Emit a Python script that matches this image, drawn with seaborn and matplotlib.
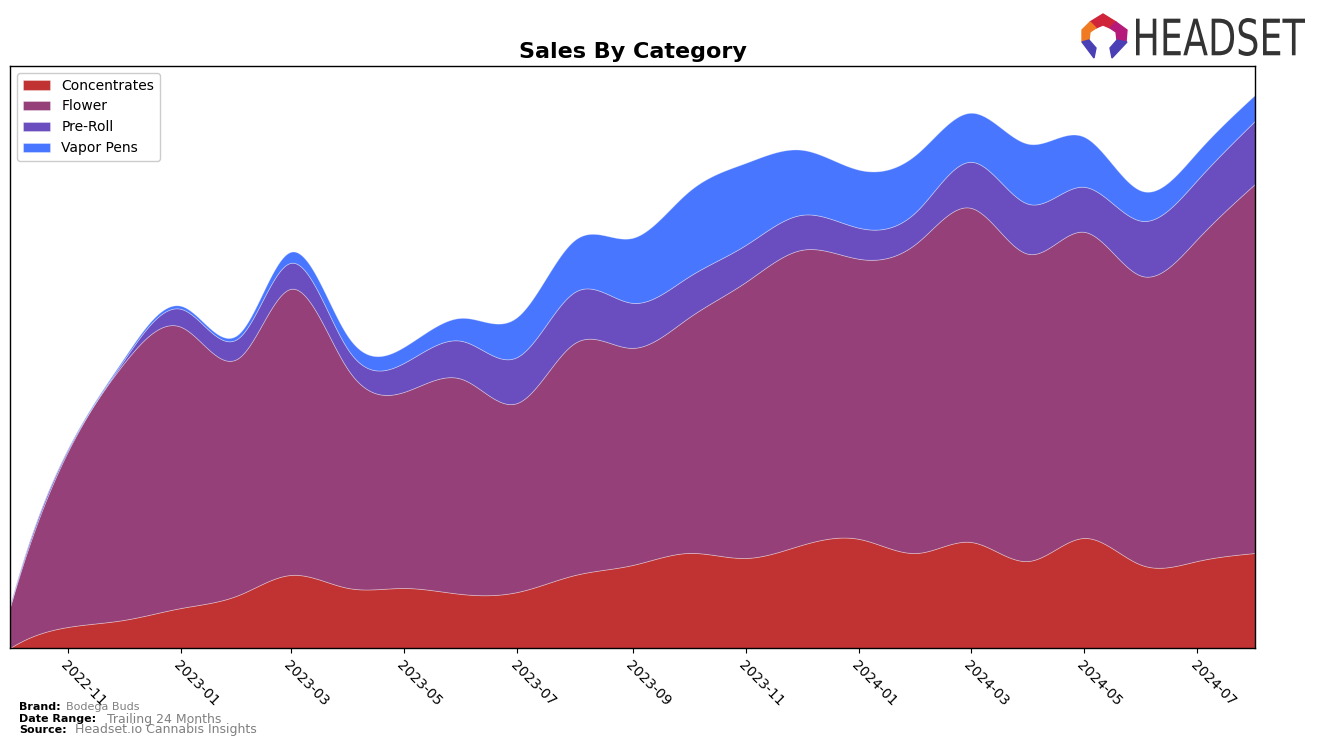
import numpy as np
import pandas as pd
import matplotlib
matplotlib.use('Agg')
import matplotlib.pyplot as plt
import matplotlib.dates as mdates
from matplotlib.patches import Polygon, PathPatch
from matplotlib.textpath import TextPath
from matplotlib.font_manager import FontProperties
from matplotlib.transforms import Affine2D
import seaborn as sns

sns.set_style('ticks')
plt.rcParams['font.family'] = ['DejaVu Sans']
plt.rcParams['text.color'] = 'black'
plt.rcParams['axes.labelcolor'] = 'black'
plt.rcParams['xtick.color'] = 'black'

# monthly sales by category (relative units)
months = pd.date_range('2022-10-01', '2024-08-01', freq='MS')
concentrates = [0, 21, 28, 40, 53, 73, 60, 60, 54, 56, 73, 83, 95, 90, 103, 109, 95, 106, 87, 110, 83, 87, 95]
flower = [41, 175, 256, 281, 237, 286, 218, 196, 215, 189, 232, 217, 235, 276, 295, 280, 310, 334, 307, 306, 289, 322, 369]
pre_roll = [1, 2, 3, 18, 20, 26, 20, 29, 38, 46, 51, 45, 41, 37, 35, 31, 32, 46, 50, 45, 55, 59, 63]
vapor_pens = [1, 1, 2, 3, 4, 11, 13, 16, 23, 40, 52, 65, 85, 82, 65, 58, 57, 49, 60, 50, 30, 28, 26]
categories = ['Concentrates', 'Flower', 'Pre-Roll', 'Vapor Pens']
colors = ['#c13232', '#954078', '#6a4dbe', '#4876ff']

brand = 'Bodega Buds'
date_range = 'Trailing 24 Months'
source = 'Headset.io Cannabis Insights'


def smooth(x, y, xs):
    # cubic spline (not-a-knot start, natural end), only used to draw the curves smoothly
    x = np.asarray(x, float)
    y = np.asarray(y, float)
    n = len(x)
    h = np.diff(x)
    A = np.zeros((n, n))
    r = np.zeros(n)
    A[0, 0], A[0, 1], A[0, 2] = -h[1], h[0] + h[1], -h[0]
    A[-1, -1] = 1
    for i in range(1, n - 1):
        A[i, i - 1] = h[i - 1]
        A[i, i] = 2 * (h[i - 1] + h[i])
        A[i, i + 1] = h[i]
        r[i] = 3 * ((y[i + 1] - y[i]) / h[i] - (y[i] - y[i - 1]) / h[i - 1])
    c = np.linalg.solve(A, r)
    b = (y[1:] - y[:-1]) / h - h * (2 * c[:-1] + c[1:]) / 3
    d = (c[1:] - c[:-1]) / (3 * h)
    idx = np.clip(np.searchsorted(x, xs) - 1, 0, n - 2)
    dx = xs - x[idx]
    return y[idx] + b[idx] * dx + c[idx] * dx ** 2 + d[idx] * dx ** 3


xnum = mdates.date2num(months)
xs = np.linspace(xnum[0], xnum[-1], 800)
series = [concentrates, flower, pre_roll, vapor_pens]
ys = [np.clip(smooth(xnum, s, xs), 0, None) for s in series]

fig = plt.figure(figsize=(13.19, 7.46), dpi=100)
ax = fig.add_axes([10 / 1319, 98 / 746, 1245 / 1319, 582 / 746])

ax.stackplot(mdates.num2date(xs), *ys, labels=categories, colors=sns.color_palette(colors),
             edgecolor=(1, 1, 1, 0.35), linewidth=0.6)

total = np.sum(series, axis=0)
ax.set_ylim(0, total.max() * 1.052)
ax.set_xlim(months[0], months[-1])
ax.set_yticks([])
ax.xaxis.set_major_locator(mdates.MonthLocator(bymonth=[1, 3, 5, 7, 9, 11]))
ax.xaxis.set_major_formatter(mdates.DateFormatter('%Y-%m'))
plt.setp(ax.get_xticklabels(), rotation=-45, ha='left', rotation_mode='anchor', fontsize=10)
for s in ax.spines.values():
    s.set_visible(True)
    s.set_color('black')
    s.set_linewidth(1)

ax.set_title('Sales By Category', fontsize=16, fontweight='bold', pad=6)
ax.legend(loc='upper left', fontsize=10, framealpha=1)

# footer
fig.text(19 / 1319, 1 - 707 / 746, 'Brand:', fontsize=8, fontweight='bold', va='center')
fig.text(66 / 1319, 1 - 707 / 746, brand, fontsize=8, color='gray', va='center')
fig.text(19 / 1319, 1 - 719 / 746, 'Date Range:', fontsize=8, fontweight='bold', va='center')
fig.text(107 / 1319, 1 - 719 / 746, date_range, fontsize=9, color='gray', va='center')
fig.text(19 / 1319, 1 - 730 / 746, 'Source:', fontsize=8, fontweight='bold', va='center')
fig.text(75 / 1319, 1 - 730 / 746, source, fontsize=9, color='gray', va='center')

# logo, drawn in pixel coordinates on an overlay axes
lax = fig.add_axes([0, 0, 1, 1], zorder=-1)
lax.set_xlim(0, 1319)
lax.set_ylim(746, 0)
lax.axis('off')
logo = [
    ([(1090, 22), (1103, 14), (1116, 22), (1110, 28), (1103, 25), (1096, 28)], '#d0243a'),
    ([(1116, 22), (1127, 30), (1126, 42), (1117, 40), (1116, 32), (1110, 28)], '#b5197a'),
    ([(1090, 22), (1096, 28), (1090, 32), (1089, 40), (1082, 42), (1082, 30)], '#f07a22'),
    ([(1082, 42), (1089, 40), (1096, 48), (1094, 58)], '#4a3fb5'),
    ([(1127, 42), (1117, 40), (1110, 48), (1112, 58)], '#4a3fb5'),
]
for pts, col in logo:
    lax.add_patch(Polygon(pts, closed=True, color=col))
tp = TextPath((0, 0), 'HEADSET', size=1, prop=FontProperties(family='DejaVu Sans'))
ext = tp.get_extents()
sx = (1305 - 1136) / ext.width
sy = (56 - 18) / ext.height
tr = Affine2D().translate(-ext.x0, -ext.y0).scale(sx, -sy).translate(1136, 56)
lax.add_patch(PathPatch(tr.transform_path(tp), color='#333333', lw=0))

fig.savefig('out.png', dpi=100)
